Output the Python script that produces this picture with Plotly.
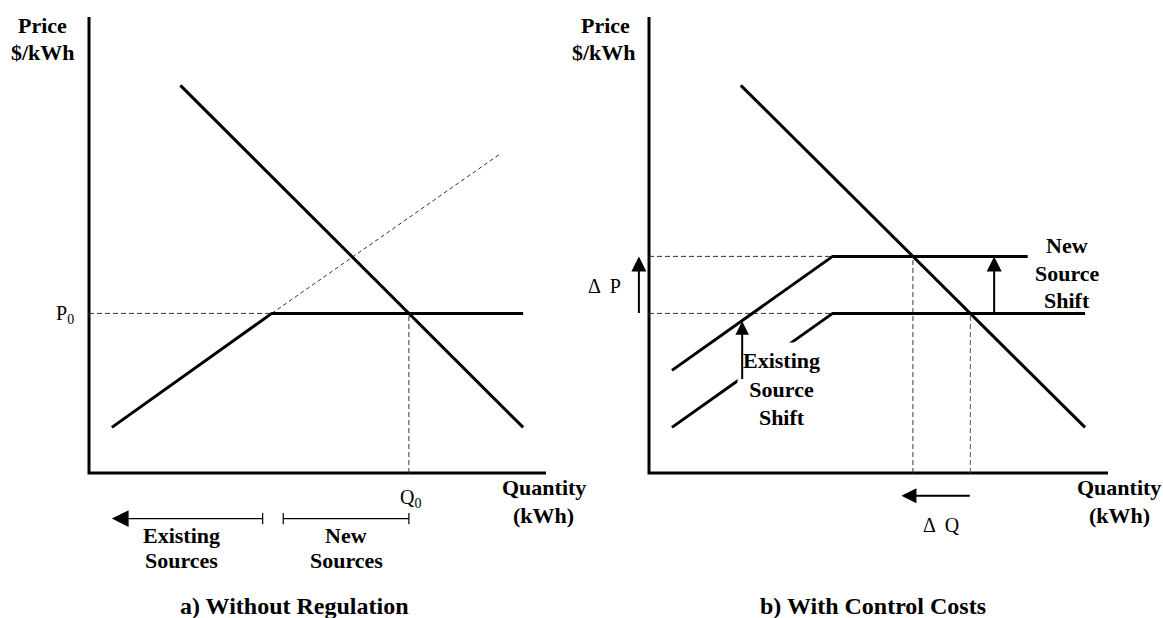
import plotly.graph_objects as go

W, H = 1163, 618

# ---------------- data (quantity / price in diagram units) ----------------
axis_q = [0, 0, 10]
axis_p = [10, 0, 0]

demand_q = [2.0, 9.5]
demand_p = [8.5, 1.0]

# panel a
supply_a_q = [0.5, 4.0, 9.5]
supply_a_p = [1.0, 3.5, 3.5]
supply_ext_q = [4.0, 9.0]
supply_ext_p = [3.5, 7.0]

P0 = 3.5
Q0 = 7.0
P1 = 4.75
Q1 = 5.75
kink_q = 4.0

# panel b
supply_b_low_q = [0.5, 4.0, 9.5]
supply_b_low_p = [1.0, 3.5, 3.5]
supply_b_high_q = [0.5, 4.0, 8.25]
supply_b_high_p = [2.25, 4.75, 4.75]

existing_src_q = [3.8, 0.5]   # tail -> head
new_src_q = [4.25, 7.0]
bracket_p = -1.0

dP_q = -0.22
shift_exist_q = 2.03
shift_exist_p = [2.05, 3.33]
shift_new_q = 7.52
dQ_q = [7.0, 5.5]
dQ_p = -0.5

# ---------------- figure ----------------
fig = go.Figure()
BLK = "black"
DASHC = "#333333"


def line(xs, ys, ax, width=3, dash=None, color=BLK):
    fig.add_trace(go.Scatter(
        x=xs, y=ys, mode="lines", xaxis=ax[0], yaxis=ax[1],
        line=dict(color=color, width=width, dash=dash),
        hoverinfo="skip", showlegend=False))


A = ("x", "y")
B = ("x2", "y2")

# panel a
line(axis_q, axis_p, A, 3)
line([0, kink_q], [P0, P0], A, 1, "5px,3px", DASHC)
line([Q0, Q0], [0, P0], A, 1, "5px,3px", DASHC)
line(supply_ext_q, supply_ext_p, A, 1, "4px,3px", DASHC)
line(demand_q, demand_p, A, 3)
line(supply_a_q, supply_a_p, A, 3)
line(new_src_q, [bracket_p, bracket_p], A, 1.2)
fig.add_trace(go.Scatter(
    x=[existing_src_q[0], new_src_q[0], new_src_q[1]],
    y=[bracket_p] * 3, mode="markers", xaxis="x", yaxis="y",
    marker=dict(symbol="line-ns", size=8, line=dict(width=1.2, color=BLK)),
    hoverinfo="skip", showlegend=False))

# panel b
line(axis_q, axis_p, B, 3)
line([0, kink_q], [P1, P1], B, 1, "5px,3px", DASHC)
line([0, kink_q], [P0, P0], B, 1, "5px,3px", DASHC)
line([Q1, Q1], [0, P1], B, 1, "5px,3px", DASHC)
line([Q0, Q0], [0, P0], B, 1, "5px,3px", "#555555")
line(demand_q, demand_p, B, 3)
line(supply_b_high_q, supply_b_high_p, B, 3)
line(supply_b_low_q, supply_b_low_p, B, 3)

# ---------------- annotations ----------------
SERIF = "Liberation Serif"


def txt(text, px, py, size=22, bold=True, xanchor="center", **kw):
    d = dict(text=("<b>%s</b>" % text) if bold else text,
             xref="paper", yref="paper", x=px / W, y=1 - py / H,
             showarrow=False, xanchor=xanchor, yanchor="middle",
             font=dict(family=SERIF, size=size, color=BLK))
    d.update(kw)
    return d


def arrow(x, y, ax_, ay_, ref, width=2, size=1.5):
    return dict(text="", x=x, y=y, ax=ax_, ay=ay_,
                xref=ref[0], yref=ref[1], axref=ref[0], ayref=ref[1],
                showarrow=True, arrowhead=2, arrowwidth=width,
                arrowsize=size, arrowcolor=BLK, standoff=0,
                startstandoff=0, borderpad=0, font=dict(size=1))


ann = [
    # panel a
    txt("Price", 43, 25.5), txt("$/kWh", 43, 52.5),
    txt("P<sub>0</sub>", 76, 314, size=20, bold=False, xanchor="right"),
    txt("Q<sub>0</sub>", 410, 498, size=20, bold=False),
    txt("Quantity", 543.5, 488), txt("(kWh)", 543.5, 515),
    txt("Existing", 181, 535.5), txt("Sources", 181, 560.5),
    txt("New", 346, 535.5), txt("Sources", 346, 560.5),
    txt("a) Without Regulation", 294, 606, size=24),
    arrow(existing_src_q[1], bracket_p, existing_src_q[0], bracket_p, A,
          width=1.2, size=2.8),
    # panel b
    txt("Price", 605, 25.5), txt("$/kWh", 604, 52.5),
    txt("Δ  P", 604, 286, size=20, bold=False),
    txt("Δ  Q", 941.5, 525, size=20, bold=False),
    txt("Quantity", 1119, 488), txt("(kWh)", 1119, 515),
    txt("New", 1067, 245), txt("Source", 1067, 273.5), txt("Shift", 1067, 300.5),
    txt("Existing<br>Source<br>Shift", 781.5, 389, bgcolor="white",
        borderpad=5),
    txt("b) With Control Costs", 873, 606, size=24),
    arrow(dP_q, P1, dP_q, P0, B),
    arrow(shift_exist_q, shift_exist_p[1], shift_exist_q, shift_exist_p[0], B,
          size=1.35),
    arrow(shift_new_q, P1, shift_new_q, P0, B),
    arrow(dQ_q[1], dQ_p, dQ_q[0], dQ_p, B),
]

ax_common = dict(visible=False, fixedrange=True, showgrid=False,
                 zeroline=False)
fig.update_layout(
    width=W, height=H, margin=dict(l=0, r=0, t=0, b=0),
    paper_bgcolor="white", plot_bgcolor="white", showlegend=False,
    xaxis=dict(domain=[0, 0.5], range=[-89 / 45.7, (581.5 - 89) / 45.7],
               anchor="y", **ax_common),
    yaxis=dict(domain=[0, 1], range=[(473 - 618) / 45.6, 473 / 45.6],
               anchor="x", **ax_common),
    xaxis2=dict(domain=[0.5, 1], range=[(581.5 - 649) / 45.9, (1163 - 649) / 45.9],
                anchor="y2", **ax_common),
    yaxis2=dict(domain=[0, 1], range=[(473 - 618) / 45.6, 473 / 45.6],
                anchor="x2", **ax_common),
    annotations=ann,
)

fig.write_html(
    "out.html",
    config={"displayModeBar": False},
    post_script="document.body.style.margin='0px';"
                "document.body.style.overflow='hidden';",
)
